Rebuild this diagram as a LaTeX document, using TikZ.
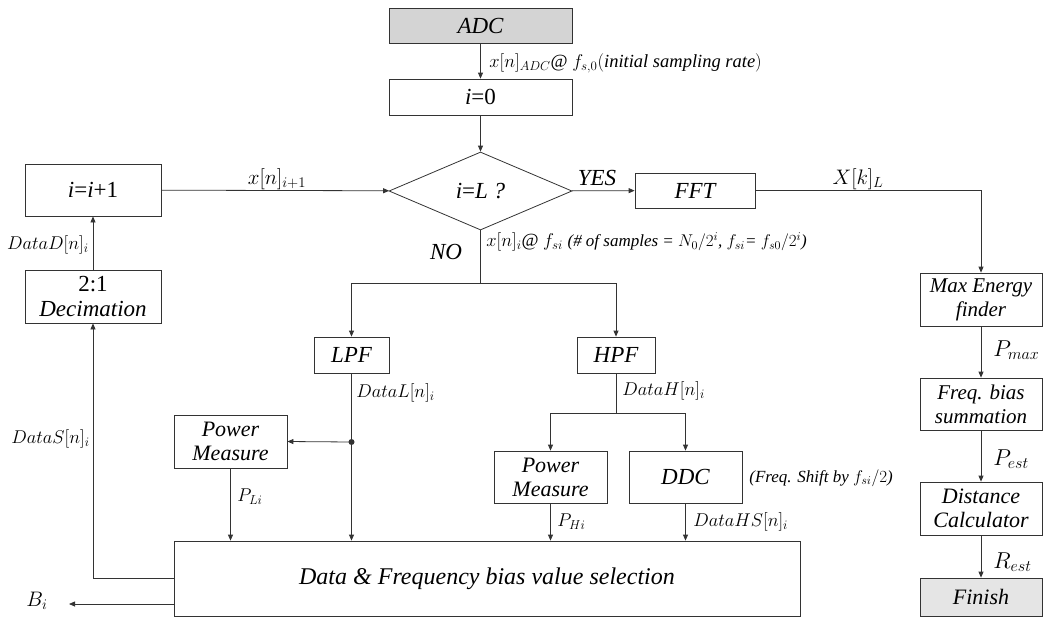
\documentclass[tikz,border=0pt]{standalone}
\usepackage{fix-cm}
\usepackage{fontspec}
\setmainfont{Liberation Serif}
\usetikzlibrary{shapes.geometric,arrows.meta}
\newcommand{\smallit}{\fontsize{17}{19}\selectfont\itshape}
\begin{document}
\begin{tikzpicture}[x=1pt,y=-1pt,
  color=black!80, line width=0.8pt,
  >={Triangle[length=6pt,width=5pt]},
  every node/.style={text=black},
  bx/.style={draw, rectangle, inner sep=1pt, align=center, font=\fontsize{23}{25}\selectfont\itshape},
  bx2/.style={bx, font=\fontsize{22}{24}\selectfont\itshape},
  dia/.style={draw, diamond, inner sep=0pt, minimum width=183pt, minimum height=78pt, font=\fontsize{23}{25}\selectfont},
  lb/.style={inner sep=0pt, font=\fontsize{18.5}{20}\selectfont},
  lbb/.style={inner sep=0pt, font=\fontsize{21}{23}\selectfont}]
\useasboundingbox (0,0) rectangle (1043,619);

% boxes
\node[bx, fill=black!17, minimum width=183pt, minimum height=35pt] (adc) at (480.5,25.5) {ADC};
\node[bx, minimum width=183pt, minimum height=36pt] (init) at (480.5,97) {\textit{i}\upshape=0};
\node[dia] (cond) at (480.5,191) {\textit{i}=\textit{L ?}};
\node[bx, minimum width=136pt, minimum height=52pt] (inc) at (93,190) {\textit{i}\upshape=\textit{i}+1};
\node[bx2, font=\fontsize{23}{25}\selectfont\itshape, minimum width=136pt, minimum height=53pt] (dec) at (93,296.5) {\upshape 2:1\\Decimation};
\node[bx, minimum width=120pt, minimum height=35pt] (fft) at (695,190.5) {FFT};
\node[bx, minimum width=75pt, minimum height=36pt] (lpf) at (351.5,355) {LPF};
\node[bx, minimum width=78pt, minimum height=36pt] (hpf) at (616,355) {HPF};
\node[bx2, minimum width=113pt, minimum height=53pt] (pml) at (230.5,441.5) {Power\\Measure};
\node[bx2, minimum width=113pt, minimum height=52pt] (pmh) at (550.5,477) {Power\\Measure};
\node[bx, minimum width=113pt, minimum height=52pt] (ddc) at (685.5,477) {DDC};
\node[bx, font=\fontsize{24}{26}\selectfont\itshape, minimum width=626pt, minimum height=75pt] (sel) at (487,578.5) {Data \& Frequency bias value selection};
\node[bx2, font=\fontsize{21}{24}\selectfont\itshape, minimum width=122pt, minimum height=53pt] (me) at (981,299.5) {Max Energy\\finder};
\node[bx2, font=\fontsize{21}{24}\selectfont\itshape, minimum width=122pt, minimum height=52pt] (fb) at (981,404) {Freq. bias\\summation};
\node[bx2, minimum width=122pt, minimum height=53pt] (dc) at (981,508.5) {Distance\\Calculator};
\node[bx2, fill=black!10, minimum width=122pt, minimum height=38pt] (fin) at (981,597) {Finish};

% helper coordinates
\coordinate (br) at (480.5,283);
\coordinate (hb) at (616,413);
\coordinate (dot) at (351.5,442);
\coordinate (bi) at (69,604);

% connectors
\draw[->] (adc) -- (init);
\draw[->] (init) -- (cond);
\draw[->] (inc) -- (cond);
\draw[->] (cond) -- (fft);
\draw[->] (fft.east) -| (me.north);
\draw (cond.south) -- (br);
\draw[->] (br) -| (lpf.north);
\draw[->] (br) -| (hpf.north);
\draw[->] (lpf.south) -- (lpf.south |- sel.north);
\fill (dot) circle (3pt);
\draw[->] (dot) -- (pml.east);
\draw[->] (pml.south) -- (pml.south |- sel.north);
\draw (hpf.south) -- (hb);
\draw[->] (hb) -| (pmh.north);
\draw[->] (hb) -| (ddc.north);
\draw[->] (pmh.south) -- (pmh.south |- sel.north);
\draw[->] (ddc.south) -- (ddc.south |- sel.north);
\draw[->] (sel.west) -| (dec.south);
\draw[->] (sel.west |- bi) -- (bi);
\draw[->] (dec) -- (inc);
\draw[->] (me) -- (fb);
\draw[->] (fb) -- (dc);
\draw[->] (dc) -- (fin);

% labels
\node[lb, anchor=west] (l1) at (489,63) {$x[n]_{ADC}$@ $f_{s,0}(\mathit{initial\ sampling\ rate})$};
\node[lbb] (l2) at (277,179) {$x[n]_{i+1}$};
\node[lbb, font=\fontsize{23}{25}\selectfont\itshape] (l3) at (597,178) {YES};
\node[lbb, font=\fontsize{23}{25}\selectfont\itshape] (l4) at (446,252) {NO};
\node[lb, anchor=west] (l5) at (486,242) {$x[n]_i$@ $f_{si}$ {\smallit (\# of samples = $N_0/2^i$, $f_{si}$= $f_{s0}/2^i$)}};
\node[lbb] (l6) at (858,179) {$X[k]_L$};
\node[lb, anchor=east] (l7) at (89,245) {$DataD[n]_i$};
\node[lb, anchor=east] (l8) at (90,439) {$DataS[n]_i$};
\node[lb, anchor=west] (l9) at (356,393) {$DataL[n]_i$};
\node[lb, anchor=west] (l10) at (237,497) {$P_{Li}$};
\node[lb, anchor=west] (l11) at (622,391) {$DataH[n]_i$};
\node[lb, anchor=west] (l12) at (557,522) {$P_{Hi}$};
\node[lb, anchor=west] (l13) at (693,522) {$DataHS[n]_i$};
\node[lb, anchor=west, font=\fontsize{17}{19}\selectfont\itshape] (l14) at (749,478) {(Freq. Shift by $f_{si}/2$)};
\node[lbb, anchor=west, font=\fontsize{23}{25}\selectfont] (l15) at (993,350) {$P_{max}$};
\node[lbb, anchor=west, font=\fontsize{23}{25}\selectfont] (l16) at (993,459) {$P_{est}$};
\node[lbb, anchor=west, font=\fontsize{23}{25}\selectfont] (l17) at (993,562) {$R_{est}$};
\node[lbb] (l18) at (37,601) {$B_i$};
\end{tikzpicture}
\end{document}
